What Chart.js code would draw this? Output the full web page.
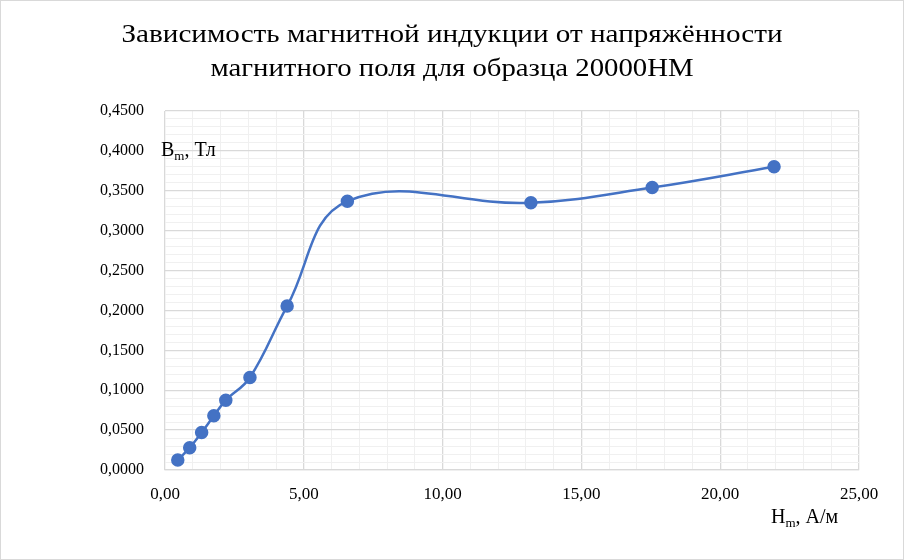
<!DOCTYPE html>
<html>
<head>
<meta charset="utf-8">
<script src="https://cdn.jsdelivr.net/npm/chart.js@4.4.1/dist/chart.umd.min.js"></script>
<style>
  html, body { margin: 0; padding: 0; background: #fff; }
  #wrap { width: 904px; height: 560px; }
</style>
</head>
<body>
<div id="wrap"><canvas id="grafico" width="904" height="560"></canvas></div>
<script>
// Hm, А/м и Bm, Тл
const H = [0.46, 0.89, 1.32, 1.76, 2.19, 3.06, 4.40, 6.57, 13.18, 17.55, 21.94];
const B = [0.0125, 0.0280, 0.0470, 0.0680, 0.0875, 0.1160, 0.2055, 0.3370, 0.3350, 0.3540, 0.3800];
const tituloLineas = ['Зависимость магнитной индукции от напряжённости', 'магнитного поля для образца 20000НМ'];
const ejeX = { min: 0, max: 25, paso: 5, menor: 1 };
const ejeY = { min: 0, max: 0.45, paso: 0.05, menor: 0.01 };

const serif = "'Liberation Serif', 'Times New Roman', serif";
const azul = '#4472C4';

function esMayor(v, paso) {
  const r = v / paso;
  return Math.abs(r - Math.round(r)) < 1e-6;
}

const puntos = H.map((h, i) => ({ x: h, y: B[i] }));

// título, rótulos de ejes con subíndice y marco exterior
const rotulos = {
  id: 'rotulos',
  afterDraw(chart) {
    const c = chart.ctx;
    c.save();
    c.fillStyle = '#000';
    c.textBaseline = 'alphabetic';

    // título centrado en todo el lienzo, algo estirado como en la imagen original
    const anchos = [661, 483];
    const bases = [42, 76];
    c.font = '26px ' + serif;
    c.textAlign = 'center';
    tituloLineas.forEach((t, i) => {
      const w = c.measureText(t).width;
      const k = anchos[i] / w;
      c.save();
      c.translate(chart.width / 2, bases[i]);
      c.scale(k, 1);
      c.fillText(t, 0, 0);
      c.restore();
    });
    c.textAlign = 'left';

    function conSub(x, y, base, sub, resto) {
      c.font = '20px ' + serif;
      c.fillText(base, x, y);
      let w = c.measureText(base).width;
      c.font = '13px ' + serif;
      c.fillText(sub, x + w, y + 4);
      w += c.measureText(sub).width;
      c.font = '20px ' + serif;
      c.fillText(resto, x + w, y);
    }
    conSub(161, 156, 'B', 'm', ', Тл');
    conSub(771, 523, 'H', 'm', ', А/м');

    c.strokeStyle = '#d9d9d9';
    c.lineWidth = 1;
    c.strokeRect(0.5, 0.5, chart.width - 1, chart.height - 1);
    c.restore();
  }
};

new Chart(document.getElementById('grafico').getContext('2d'), {
  type: 'scatter',
  data: {
    datasets: [{
      data: puntos,
      showLine: true,
      borderColor: azul,
      backgroundColor: azul,
      borderWidth: 2.5,
      pointRadius: 5.5,
      pointHoverRadius: 5.5,
      tension: 0.4
    }]
  },
  options: {
    responsive: false,
    animation: false,
    layout: { padding: { left: 0, right: 45, top: 111, bottom: 0 } },
    plugins: {
      legend: { display: false },
      tooltip: { enabled: false },
      title: { display: false }
    },
    scales: {
      x: {
        type: 'linear',
        min: ejeX.min,
        max: ejeX.max,
        afterFit(s) { s.height = 90; },
        ticks: {
          stepSize: ejeX.menor,
          autoSkip: false,
          maxRotation: 0,
          color: '#000',
          padding: 14,
          font: { family: serif, size: 17 },
          callback: v => esMayor(v, ejeX.paso) ? v.toFixed(2).replace('.', ',') : ''
        },
        grid: {
          drawTicks: false,
          color: ctx => esMayor(ctx.tick.value, ejeX.paso) ? '#d9d9d9' : '#f0f0f0',
          lineWidth: ctx => esMayor(ctx.tick.value, ejeX.paso) ? 1.3 : 1
        },
        border: { display: true, color: '#d9d9d9', width: 1.3 }
      },
      y: {
        type: 'linear',
        min: ejeY.min,
        max: ejeY.max,
        afterFit(s) { s.width = 165; },
        ticks: {
          stepSize: ejeY.menor,
          autoSkip: false,
          color: '#000',
          padding: 21,
          font: { family: serif, size: 16 },
          callback: v => esMayor(v, ejeY.paso) ? v.toFixed(4).replace('.', ',') : ''
        },
        grid: {
          drawTicks: false,
          color: ctx => esMayor(ctx.tick.value, ejeY.paso) ? '#d9d9d9' : '#f0f0f0',
          lineWidth: ctx => esMayor(ctx.tick.value, ejeY.paso) ? 1.3 : 1
        },
        border: { display: false }
      }
    }
  },
  plugins: [rotulos]
});
</script>
</body>
</html>
